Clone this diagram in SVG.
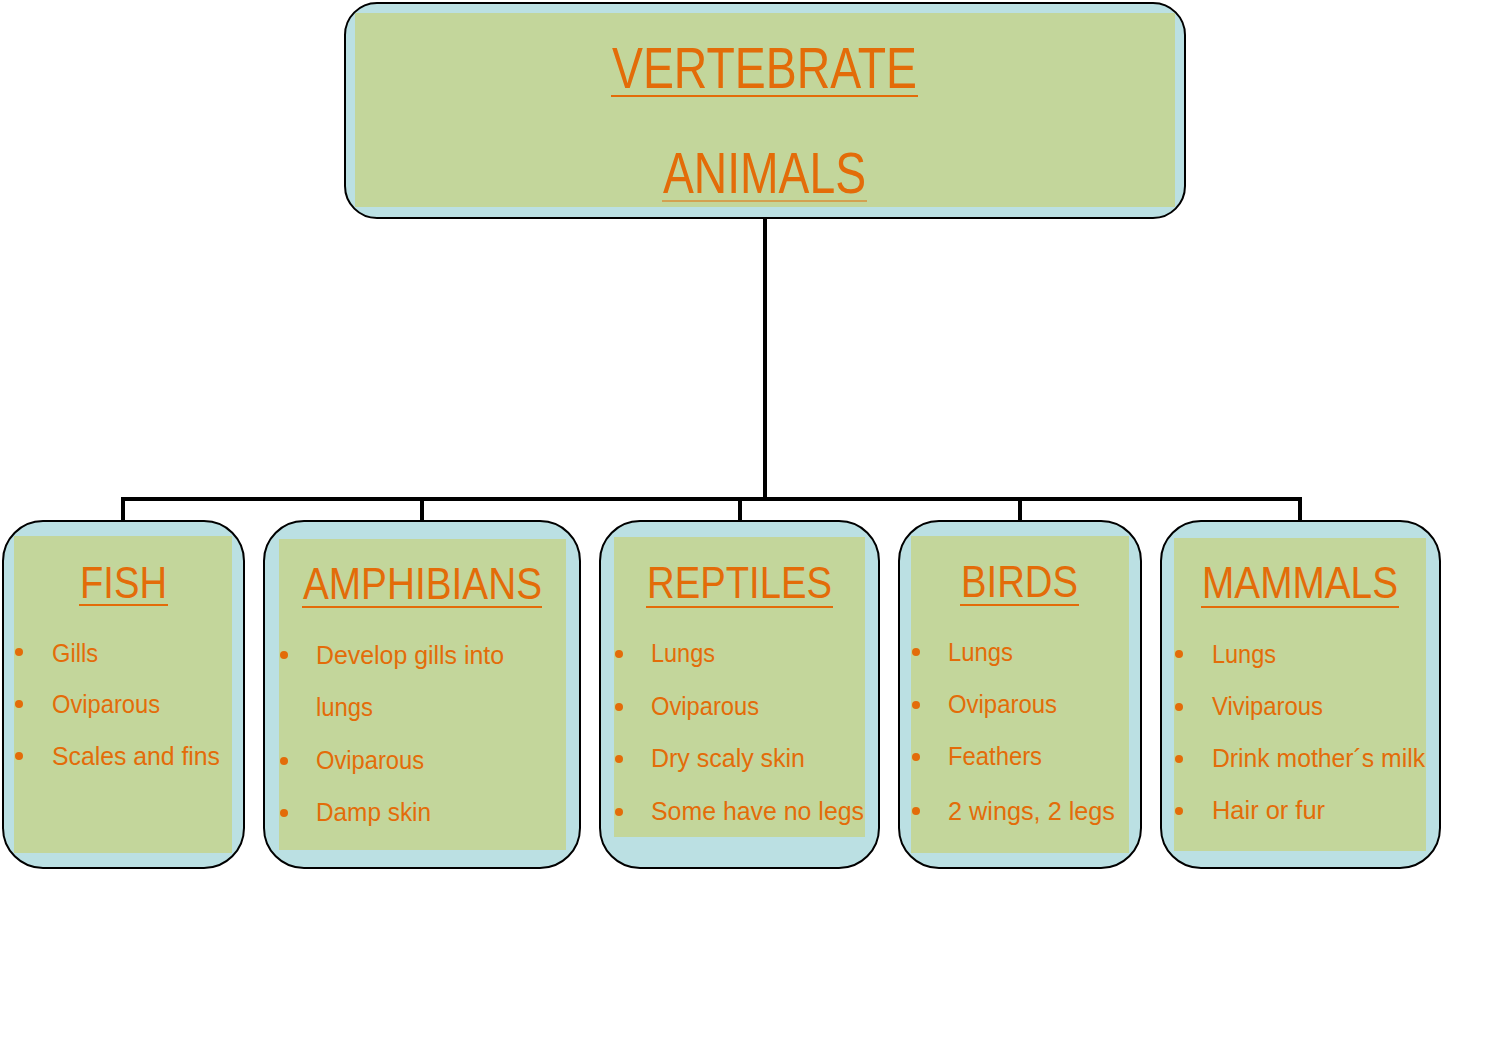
<svg xmlns="http://www.w3.org/2000/svg" width="1496" height="1062" viewBox="0 0 1496 1062">
<style>
.outer{fill:#BBE0E3;stroke:#000;stroke-width:2}
.inner{fill:#C3D69B}
.t{font-family:"Liberation Sans",Arial,sans-serif;fill:#E36C09}
.big{font-size:57px}
.ttl{font-size:45px;text-anchor:start}
.it{font-size:25px}
.ul{stroke:#E36C09;stroke-width:2}
.b{fill:#E36C09}
.conn{fill:none;stroke:#000;stroke-width:4}
</style>
<rect width="1496" height="1062" fill="#fff"/>
<g id="connectors">
<path class="conn" d="M765,218 V499 M123,499 H1301 M123,497 V522 M422,497 V522 M740,497 V522 M1020,497 V522 M1300,497 V522"/>
</g>
<g id="root">
<rect class="outer" x="345" y="3" width="840" height="215" rx="32"/>
<rect class="inner" x="355" y="13" width="820" height="194"/>
<text class="t big" x="612" y="88" textLength="305" lengthAdjust="spacingAndGlyphs">VERTEBRATE</text>
<line class="ul" x1="611" y1="96" x2="918" y2="96"/>
<text class="t big" x="663" y="193" textLength="203" lengthAdjust="spacingAndGlyphs">ANIMALS</text>
<line class="ul" x1="662" y1="201" x2="867" y2="201" style="stroke-width:1"/>
</g>
<g id="fish">
<rect class="outer" x="3" y="521" width="241" height="347" rx="40"/>
<rect class="inner" x="14" y="536" width="218" height="317"/>
<text class="t ttl" x="80" y="598" textLength="87" lengthAdjust="spacingAndGlyphs">FISH</text>
<line class="ul" x1="79" y1="605" x2="168" y2="605"/>
<circle class="b" cx="19" cy="652" r="4"/><text class="t it" x="52" y="662" textLength="46" lengthAdjust="spacingAndGlyphs">Gills</text>
<circle class="b" cx="19" cy="704" r="4"/><text class="t it" x="52" y="713" textLength="108" lengthAdjust="spacingAndGlyphs">Oviparous</text>
<circle class="b" cx="19" cy="756" r="4"/><text class="t it" x="52" y="765" textLength="168" lengthAdjust="spacingAndGlyphs">Scales and fins</text>
</g>
<g id="amphibians">
<rect class="outer" x="264" y="521" width="316" height="347" rx="40"/>
<rect class="inner" x="279" y="539" width="287" height="311"/>
<text class="t ttl" x="303" y="599" textLength="239" lengthAdjust="spacingAndGlyphs">AMPHIBIANS</text>
<line class="ul" x1="302" y1="607" x2="542" y2="607"/>
<circle class="b" cx="284" cy="655" r="4"/><text class="t it" x="316" y="664" textLength="188" lengthAdjust="spacingAndGlyphs">Develop gills into</text>
<text class="t it" x="316" y="716" textLength="57" lengthAdjust="spacingAndGlyphs">lungs</text>
<circle class="b" cx="284" cy="761" r="4"/><text class="t it" x="316" y="769" textLength="108" lengthAdjust="spacingAndGlyphs">Oviparous</text>
<circle class="b" cx="284" cy="813" r="4"/><text class="t it" x="316" y="821" textLength="115" lengthAdjust="spacingAndGlyphs">Damp skin</text>
</g>
<g id="reptiles">
<rect class="outer" x="600" y="521" width="279" height="347" rx="40"/>
<rect class="inner" x="614" y="537" width="251" height="300"/>
<text class="t ttl" x="647" y="598" textLength="185" lengthAdjust="spacingAndGlyphs">REPTILES</text>
<line class="ul" x1="646" y1="607" x2="833" y2="607"/>
<circle class="b" cx="619" cy="654" r="4"/><text class="t it" x="651" y="662" textLength="64" lengthAdjust="spacingAndGlyphs">Lungs</text>
<circle class="b" cx="619" cy="707" r="4"/><text class="t it" x="651" y="715" textLength="108" lengthAdjust="spacingAndGlyphs">Oviparous</text>
<circle class="b" cx="619" cy="759" r="4"/><text class="t it" x="651" y="767" textLength="154" lengthAdjust="spacingAndGlyphs">Dry scaly skin</text>
<circle class="b" cx="619" cy="812" r="4"/><text class="t it" x="651" y="820" textLength="213" lengthAdjust="spacingAndGlyphs">Some have no legs</text>
</g>
<g id="birds">
<rect class="outer" x="899" y="521" width="242" height="347" rx="40"/>
<rect class="inner" x="911" y="536" width="218" height="317"/>
<text class="t ttl" x="961" y="597" textLength="117" lengthAdjust="spacingAndGlyphs">BIRDS</text>
<line class="ul" x1="960" y1="605" x2="1079" y2="605"/>
<circle class="b" cx="916" cy="652" r="4"/><text class="t it" x="948" y="661" textLength="65" lengthAdjust="spacingAndGlyphs">Lungs</text>
<circle class="b" cx="916" cy="705" r="4"/><text class="t it" x="948" y="713" textLength="109" lengthAdjust="spacingAndGlyphs">Oviparous</text>
<circle class="b" cx="916" cy="757" r="4"/><text class="t it" x="948" y="765" textLength="94" lengthAdjust="spacingAndGlyphs">Feathers</text>
<circle class="b" cx="916" cy="811" r="4"/><text class="t it" x="948" y="820" textLength="167" lengthAdjust="spacingAndGlyphs">2 wings, 2 legs</text>
</g>
<g id="mammals">
<rect class="outer" x="1161" y="521" width="279" height="347" rx="40"/>
<rect class="inner" x="1174" y="538" width="252" height="313"/>
<text class="t ttl" x="1202" y="598" textLength="196" lengthAdjust="spacingAndGlyphs">MAMMALS</text>
<line class="ul" x1="1201" y1="607" x2="1399" y2="607"/>
<circle class="b" cx="1179" cy="654" r="4"/><text class="t it" x="1212" y="663" textLength="64" lengthAdjust="spacingAndGlyphs">Lungs</text>
<circle class="b" cx="1179" cy="707" r="4"/><text class="t it" x="1212" y="715" textLength="111" lengthAdjust="spacingAndGlyphs">Viviparous</text>
<circle class="b" cx="1179" cy="759" r="4"/><text class="t it" x="1212" y="767" textLength="213" lengthAdjust="spacingAndGlyphs">Drink mother´s milk</text>
<circle class="b" cx="1179" cy="811" r="4"/><text class="t it" x="1212" y="819" textLength="113" lengthAdjust="spacingAndGlyphs">Hair or fur</text>
</g>
</svg>
